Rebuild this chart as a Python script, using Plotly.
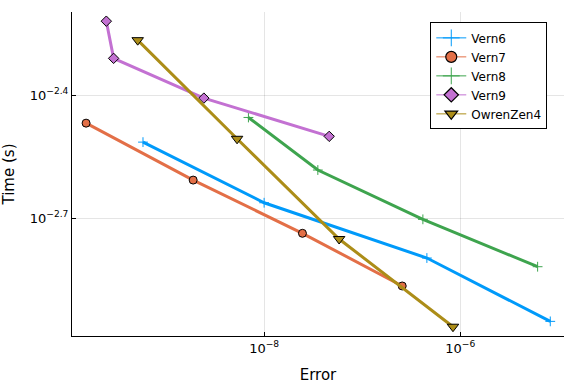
import plotly.graph_objects as go

# Data (error, time)
vern6_err = [5.82e-10, 1.0e-8, 4.57e-7, 8.28e-6]
vern6_time = [0.003060, 0.002175, 0.001593, 0.001115]
vern7_err = [1.53e-10, 1.89e-9, 2.46e-8, 2.56e-7]
vern7_time = [0.003405, 0.002471, 0.001831, 0.001361]
vern8_err = [6.92e-9, 3.53e-8, 4.16e-7, 6.15e-6]
vern8_time = [0.003516, 0.002615, 0.001981, 0.001517]
vern9_err = [2.46e-10, 2.92e-10, 2.43e-9, 4.61e-8]
vern9_time = [0.006047, 0.004905, 0.003921, 0.003161]
owren_err = [5.14e-10, 5.30e-9, 5.82e-8, 8.43e-7]
owren_time = [0.005434, 0.003118, 0.001773, 0.001082]

x_tickvals = [1e-8, 1e-6]
x_ticktext = ["10<sup>−8</sup>", "10<sup>−6</sup>"]
y_tickvals = [10 ** -2.4, 10 ** -2.7]
y_ticktext = ["10<sup>−2.4</sup>", "10<sup>−2.7</sup>"]

series = [
    ("Vern6", vern6_err, vern6_time, "#009AFA", "cross-thin", 7),
    ("Vern7", vern7_err, vern7_time, "#E36F47", "circle", 8),
    ("Vern8", vern8_err, vern8_time, "#3EA44E", "cross-thin", 7),
    ("Vern9", vern9_err, vern9_time, "#C371D2", "diamond", 8),
    ("OwrenZen4", owren_err, owren_time, "#AC8D18", "triangle-down", 10),
]

fig = go.Figure()
for name, xs, ys, col, sym, sz in series:
    if sym == "cross-thin":
        marker = dict(symbol=sym, size=sz, color=col, line=dict(color=col, width=1))
        lmarker = dict(symbol=sym, size=12, color=col, line=dict(color=col, width=1))
    else:
        marker = dict(symbol=sym, size=sz, color=col, line=dict(color="black", width=1))
        lmarker = dict(symbol=sym, size=11, color=col, line=dict(color="black", width=1.2))
    fig.add_trace(go.Scatter(x=xs, y=ys, mode="lines+markers", name=name, showlegend=False,
                             line=dict(color=col, width=3), marker=marker))
    # legend entry with thin line (as in the reference legend)
    fig.add_trace(go.Scatter(x=[None], y=[None], mode="lines+markers", name=name,
                             line=dict(color=col, width=1), marker=lmarker, hoverinfo="skip"))

axis_common = dict(
    type="log", showgrid=True, gridcolor="rgba(0,0,0,0.1)", gridwidth=1,
    showline=True, linecolor="black", linewidth=1, mirror=False,
    ticks="inside", ticklen=4, tickcolor="black", zeroline=False,
    automargin=False,
    tickfont=dict(family="DejaVu Sans", size=13, color="black"),
)
fig.update_xaxes(**axis_common, range=[-9.959, -4.942], tickvals=x_tickvals, ticktext=x_ticktext,
                 title=dict(text="Error", font=dict(family="DejaVu Sans", size=15, color="black"), standoff=14))
fig.update_yaxes(**axis_common, range=[-2.9885, -2.196], tickvals=y_tickvals, ticktext=y_ticktext,
                 title=dict(text="Time (s)", font=dict(family="DejaVu Sans", size=15, color="black"), standoff=12))

fig.update_layout(
    width=576, height=384,
    margin=dict(l=72, r=12, t=12, b=48),
    plot_bgcolor="white", paper_bgcolor="white",
    font=dict(family="DejaVu Sans", color="black"),
    legend=dict(x=0.966, y=0.968, xanchor="right", yanchor="top",
                bordercolor="black", borderwidth=1, bgcolor="white",
                font=dict(family="DejaVu Sans", size=12), tracegroupgap=0,
                itemwidth=30),
    showlegend=True,
)

fig.write_html("out.html", config={"displayModeBar": False},
               post_script="document.body.style.margin='0';document.body.style.overflow='hidden';")
